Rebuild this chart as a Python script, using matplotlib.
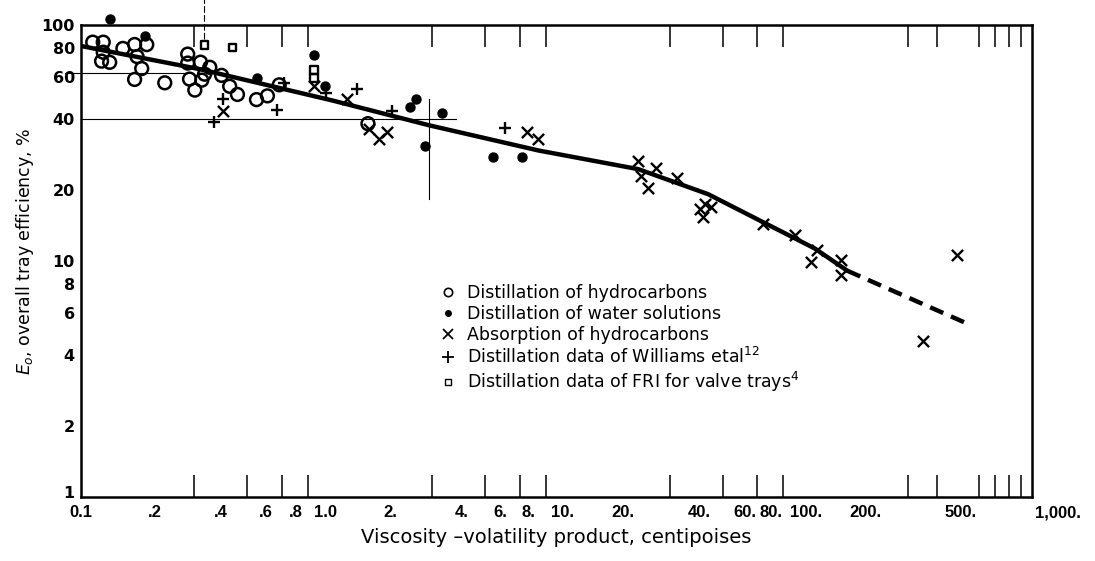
import matplotlib
matplotlib.use("Agg")
import matplotlib.pyplot as plt
import matplotlib.transforms as mtransforms
from matplotlib.lines import Line2D
from matplotlib.ticker import NullFormatter

plt.rcParams["font.family"] = ["DejaVu Sans"]
plt.rcParams["mathtext.fontset"] = "dejavusans"

# ---- data ----
# distillation of hydrocarbons (open circles)
hc_x = [0.112, 0.124, 0.124, 0.122, 0.132, 0.150, 0.168, 0.189, 0.172, 0.180,
        0.168, 0.225, 0.281, 0.281, 0.318, 0.348, 0.286, 0.322, 0.301, 0.390,
        0.331, 0.422, 0.455, 0.547, 0.608, 0.682, 1.61]
hc_y = [84.6, 84.6, 76.7, 70.3, 69.5, 79.6, 82.7, 82.6, 73.5, 65.4,
        58.8, 56.9, 75.3, 69.0, 69.6, 66.2, 59.0, 58.4, 53.0, 61.2,
        61.9, 55.0, 50.8, 48.3, 50.1, 55.8, 38.2]

# distillation of water solutions (dots)
ws_x = [0.132, 0.185, 0.552, 0.957, 1.06, 2.56, 2.42, 3.29, 2.80, 5.39, 7.13]
ws_y = [106, 90.2, 59.8, 75.0, 55.0, 48.5, 44.9, 42.2, 30.7, 27.6, 27.5]

# absorption of hydrocarbons (crosses)
ab_x = [0.394, 0.957, 1.317, 1.628, 1.79, 1.94, 7.48, 8.32, 22.1, 22.7,
        24.3, 26.3, 32.2, 42.2, 44.7, 41.3, 40.2, 73.8, 101, 125,
        118, 157, 157, 485, 349]
ab_y = [43.1, 55.0, 48.8, 36.4, 33.0, 35.3, 35.1, 32.8, 26.5, 22.9,
        20.3, 24.7, 22.5, 17.5, 17.0, 15.4, 16.6, 14.4, 12.9, 11.1,
        9.9, 10.1, 8.7, 10.6, 4.59]

# Williams et al. (plus)
wi_x = [0.361, 0.394, 0.664, 0.716, 1.07, 1.45, 2.03, 6.05]
wi_y = [38.8, 48.5, 43.7, 56.9, 51.3, 53.7, 43.3, 36.6]

# FRI valve trays (small squares)
fri_x = [0.331, 0.434, 0.957, 0.957]
fri_y = [82.1, 80.3, 64.3, 59.5]

# correlation curve
curve_x = [0.1, 0.316, 1.14, 2.91, 8.4, 22.1, 43.4, 75, 122, 167]
curve_y = [81.5, 65.0, 47.9, 37.6, 29.4, 24.5, 19.2, 14.5, 11.3, 9.1]
ext_x = [167, 519]
ext_y = [9.1, 5.5]

# construction lines left on the original drawing
h40_x = [0.1, 3.77]
h40_y = [40, 40]
h63_x = [0.086, 0.278]
h63_y = [62.7, 62.7]
v033_x = [0.33, 0.33]
v033_y = [87, 130]
v29_x = [2.91, 2.91]
v29_y = [18.3, 48.4]

# axis ticks
xlab_vals = [0.1, 0.2, 0.4, 0.6, 0.8, 1.0, 2, 4, 6, 8, 10, 20, 40, 60, 80,
             100, 200, 500, 1000]
xlab_text = ["0.1", ".2", ".4", ".6", ".8", "1.0", "2.", "4.", "6.", "8.",
             "10.", "20.", "40.", "60.", "80.", "100.", "200.", "500.", "1,000."]
# small sideways nudges of the printed labels (pixels)
xlab_shift = [0, 2, -3, 0, 0, 7, 0, 0, -3, -5, 6, -5, 0, 3, 0, 12, 0, 0, 26]
xmark_vals = [0.2, 0.3, 0.4, 0.5, 0.6, 0.7, 0.8, 0.9, 1,
              2, 3, 4, 5, 6, 7, 8, 9, 10,
              20, 30, 40, 50, 60, 70, 80, 90, 100,
              200, 300, 400, 500, 600, 700, 800, 900]
ylab_vals = [1, 2, 4, 6, 8, 10, 20, 40, 60, 80, 100]
ylab_text = ["1", "2", "4", "6", "8", "10", "20", "40", "60", "80", "100"]
ymark_vals = [2, 4, 6, 8, 10, 20, 40, 60]

legend_labels = [
    "Distillation of hydrocarbons",
    "Distillation of water solutions",
    "Absorption of hydrocarbons",
    "Distillation data of Williams etal$^{12}$",
    "Distillation data of FRI for valve trays$^{4}$",
]

# ---- figure ----
fig = plt.figure(figsize=(10.95, 5.61), dpi=100)
ax = fig.add_axes([0.074, 0.114, 0.8685, 0.8414])
ax.set_xscale("log")
ax.set_yscale("log")
ax.set_xlim(0.1, 1000)
ax.set_ylim(1, 100)

# construction lines
ax.plot(h40_x, h40_y, color="black", lw=0.8)
ax.plot(h63_x, h63_y, color="black", lw=0.8, clip_on=False)
ax.plot(v033_x, v033_y, color="black", lw=0.8, dashes=(6, 2), clip_on=False)
ax.plot(v29_x, v29_y, color="black", lw=0.8)

# correlation
ax.plot(curve_x, curve_y, color="black", lw=3.2, solid_capstyle="round",
        zorder=2)
ax.plot(ext_x, ext_y, color="black", lw=3.2, dashes=(3.2, 1.9),
        dash_capstyle="butt", zorder=2)

# data points
ax.scatter(hc_x, hc_y, s=85, facecolors="none", edgecolors="black",
           linewidths=1.8, zorder=3, clip_on=False)
ax.scatter(ws_x, ws_y, s=42, color="black", zorder=3, clip_on=False)
ax.scatter(ab_x, ab_y, s=65, marker="x", color="black", linewidths=1.7,
           zorder=3, clip_on=False)
ax.scatter(wi_x, wi_y, s=85, marker="+", color="black", linewidths=1.7,
           zorder=3, clip_on=False)
ax.scatter(fri_x, fri_y, s=30, marker="s", facecolors="none",
           edgecolors="black", linewidths=1.7, zorder=3, clip_on=False)

# legend
handles = [
    Line2D([], [], ls="none", marker="o", mfc="none", mec="black", mew=1.2, ms=6),
    Line2D([], [], ls="none", marker="o", color="black", ms=4),
    Line2D([], [], ls="none", marker="x", color="black", mew=1.3, ms=7),
    Line2D([], [], ls="none", marker="+", color="black", mew=1.3, ms=9),
    Line2D([], [], ls="none", marker="s", mfc="none", mec="black", mew=1.0, ms=4.5),
]
ax.legend(handles, legend_labels, loc="upper left",
          bbox_to_anchor=(0.3785, 0.452), frameon=False, fontsize=12.5,
          handlelength=0.8, handletextpad=0.7, labelspacing=0.17,
          borderpad=0, borderaxespad=0)

# ticks
ax.set_xticks(xlab_vals, xlab_text)
ax.set_xticks(xmark_vals, minor=True)
ax.xaxis.set_minor_formatter(NullFormatter())
ax.set_yticks(ylab_vals, ylab_text)
ax.set_yticks(ymark_vals, minor=True)
ax.yaxis.set_minor_formatter(NullFormatter())

ax.tick_params(axis="both", which="major", length=0)
ax.tick_params(axis="x", which="major", pad=6, labelsize=12)
ax.tick_params(axis="y", which="major", pad=4.5, labelsize=11.5)
ax.tick_params(axis="x", which="minor", direction="in", length=16,
               width=1.1, top=True, bottom=True)
ax.tick_params(axis="y", which="minor", direction="in", length=16,
               width=1.6, left=True, right=True)

for sp in ax.spines.values():
    sp.set_linewidth(1.8)

ax.set_xlabel("Viscosity \u2013volatility product, centipoises", fontsize=14)
ax.xaxis.set_label_coords(0.5, -0.066)
ax.set_ylabel(r"$E_o$, overall tray efficiency, %", fontsize=12.5)
ax.yaxis.set_label_coords(-0.047, 0.521)

ylabels = ax.get_yticklabels()
for lbl in ylabels:
    lbl.set_fontweight("bold")
# the "1" sits a little above the corner, clear of "0.1"
lift = mtransforms.ScaledTranslation(0, 5 / 100, fig.dpi_scale_trans)
ylabels[0].set_transform(ylabels[0].get_transform() + lift)

for lbl, dx in zip(ax.get_xticklabels(), xlab_shift):
    lbl.set_fontfamily("Liberation Sans")
    lbl.set_fontweight("bold")
    if dx:
        shift = mtransforms.ScaledTranslation(dx / 100, 0, fig.dpi_scale_trans)
        lbl.set_transform(lbl.get_transform() + shift)

fig.savefig("out.png", dpi=100)
